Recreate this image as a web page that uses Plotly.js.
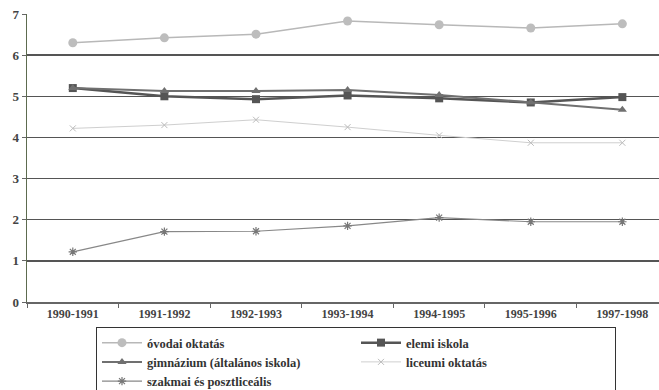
<!DOCTYPE html>
<html><head><meta charset="utf-8">
<script src="https://cdn.plot.ly/plotly-3.0.1.min.js"></script>
<style>body{margin:0;background:#fff}#c{width:659px;height:390px}</style>
</head><body><div id="c"></div>
<script>
const categories = ["1990-1991","1991-1992","1992-1993","1993-1994","1994-1995","1995-1996","1997-1998"];
const ovodai = [6.3, 6.42, 6.51, 6.83, 6.74, 6.66, 6.76];
const elemi = [5.2, 5.0, 4.93, 5.02, 4.95, 4.85, 4.98];
const gimnazium = [5.2, 5.13, 5.13, 5.15, 5.03, 4.85, 4.67];
const liceumi = [4.22, 4.3, 4.43, 4.25, 4.05, 3.87, 3.87];
const szakmai = [1.22, 1.71, 1.72, 1.85, 2.05, 1.95, 1.95];
const names = ["óvodai oktatás","elemi iskola","gimnázium (általános iskola)","liceumi oktatás","szakmai és posztliceális"];
const yTicks = [0,1,2,3,4,5,6,7];

const serif = "'Liberation Serif', 'Times New Roman', serif";
const traces = [
  {y: ovodai, name: names[0], line:{color:'#b8b8b8', width:1.5}, marker:{symbol:'circle', size:9, color:'#bdbdbd'}},
  {y: elemi, name: names[1], line:{color:'#555', width:2.5}, marker:{symbol:'square', size:8, color:'#555'}},
  {y: gimnazium, name: names[2], line:{color:'#707070', width:2}, marker:{symbol:'triangle-up', size:8, color:'#707070'}},
  {y: liceumi, name: names[3], line:{color:'#cfcfcf', width:1}, marker:{symbol:'x-thin-open', size:6, color:'#bbb', line:{width:1, color:'#bbb'}}},
  {y: szakmai, name: names[4], line:{color:'#888', width:1.2}, marker:{symbol:'asterisk-open', size:7, color:'#777', line:{width:1.2, color:'#777'}}}
].map(t => Object.assign({x: categories, type:'scatter', mode:'lines+markers'}, t));

const layout = {
  width: 659, height: 390,
  margin: {l:27, r:0, t:14, b:88, autoexpand:false},
  paper_bgcolor:'#fff', plot_bgcolor:'#fff',
  showlegend: true,
  xaxis: {
    type:'category', range:[-0.5, 6.4], showgrid:false,
    showline:true, linecolor:'#666', linewidth:1.5,
    ticks:'outside', tickson:'boundaries', ticklen:4, tickcolor:'#666',
    tickfont:{family:serif, size:12, color:'#444', weight:'bold'},
    zeroline:false
  },
  yaxis: {
    range:[0,7], tickvals:yTicks, showgrid:true, gridcolor:'#555', gridwidth:1.3,
    showline:true, linecolor:'#5d6b4f', linewidth:1.5,
    ticks:'outside', ticklen:4, tickcolor:'#666',
    tickfont:{family:serif, size:13, color:'#444', weight:'bold'},
    zeroline:false
  },
  legend: {
    orientation:'h', xref:'paper', yref:'container',
    x:(96-27)/632, y:1-327/390, xanchor:'left', yanchor:'top',
    bordercolor:'#333', borderwidth:1, bgcolor:'#fff',
    font:{family:serif, size:12.5, color:'#333', weight:'bold'},
    itemwidth:40, entrywidth:204, entrywidthmode:'pixels', tracegroupgap:0
  }
};
Plotly.newPlot('c', traces, layout, {displayModeBar:false, staticPlot:true});
</script></body></html>
